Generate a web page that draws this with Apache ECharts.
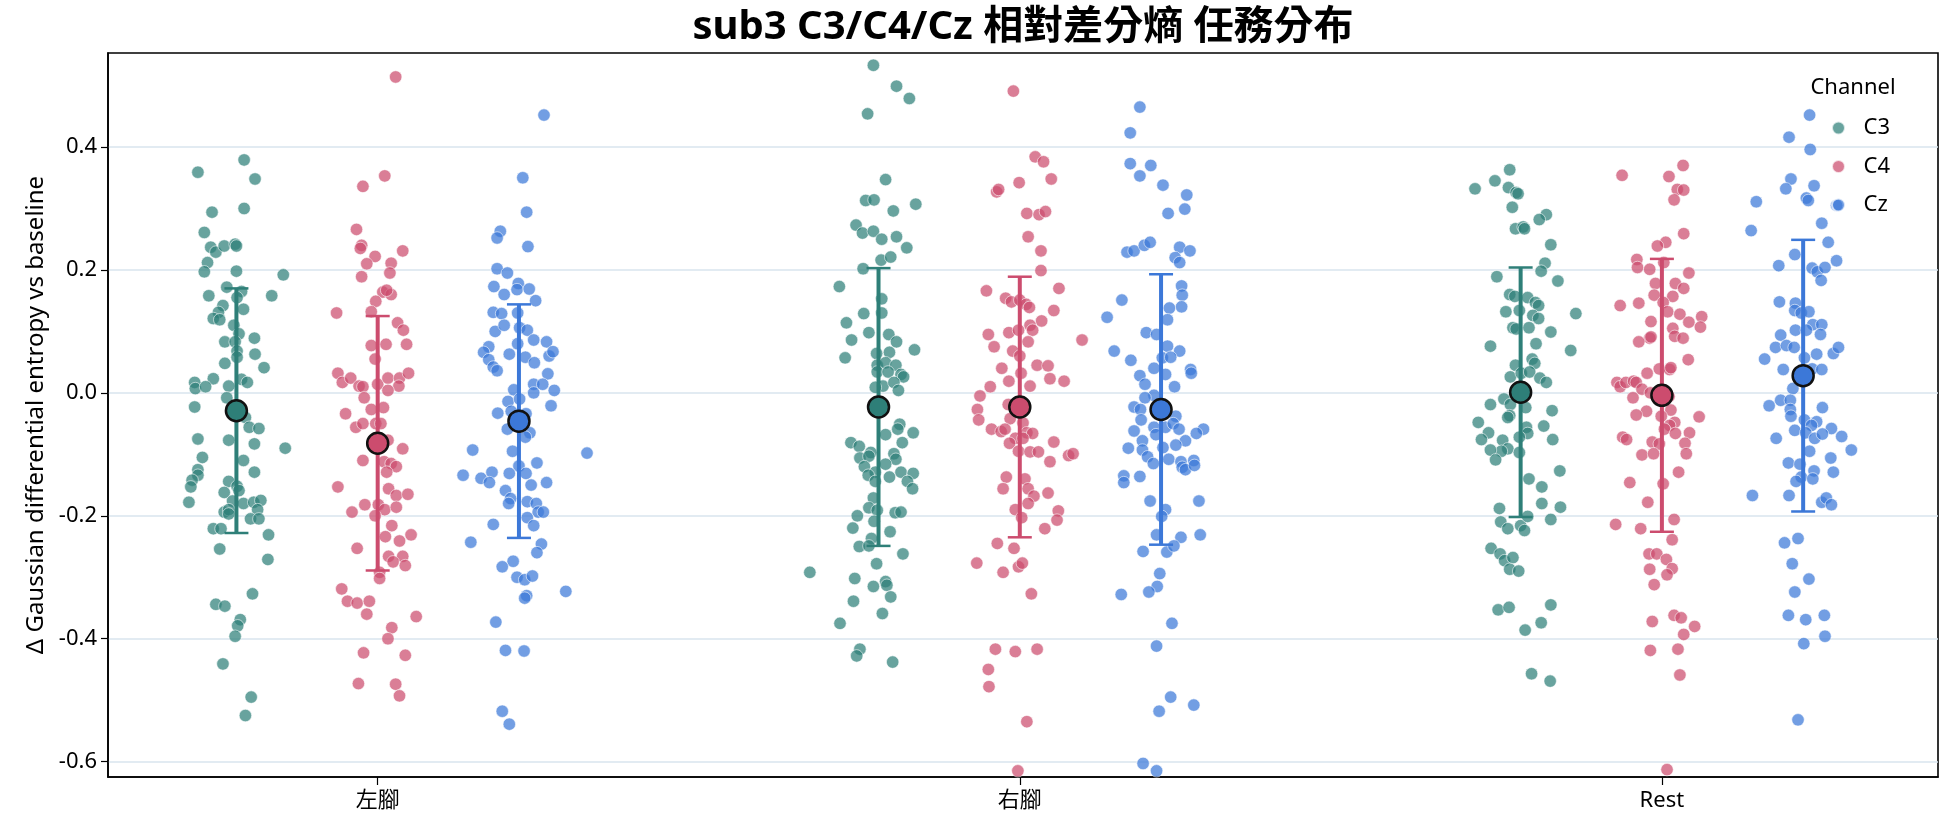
<!DOCTYPE html>
<html>
<head>
<meta charset="utf-8">
<script src="https://cdn.jsdelivr.net/npm/echarts@6/dist/echarts.min.js"></script>
<style>
  html, body { margin: 0; padding: 0; background: #fff; }
  #chart { width: 1944px; height: 827px; }
</style>
</head>
<body>
<div id="chart"></div>
<script>
// categories / channels
const categories = ['左腳', '右腳', 'Rest'];
const channels = ['C3', 'C4', 'Cz'];
const yTicks = [-0.6, -0.4, -0.2, 0.0, 0.2, 0.4];

// mean and sd per channel (左腳, 右腳, Rest)
const meanC3 = [-0.029, -0.023, 0.001];
const sdC3 = [0.199, 0.226, 0.203];
const meanC4 = [-0.082, -0.023, -0.004];
const sdC4 = [0.207, 0.212, 0.222];
const meanCz = [-0.046, -0.027, 0.028];
const sdCz = [0.190, 0.220, 0.221];

// strip points: [jitter, value]
const c3Left = [[0.012,0.379],[-0.060,0.359],[0.029,0.348],[-0.038,0.294],[0.012,0.300],[-0.050,0.261],[-0.040,0.237],[-0.032,0.229],[-0.019,0.239],[-0.002,0.242],[0.000,0.239],[-0.045,0.212],[-0.050,0.197],[0.000,0.198],[0.073,0.192],[-0.015,0.172],[-0.043,0.158],[0.008,0.165],[0.055,0.158],[0.001,0.155],[-0.021,0.142],[0.011,0.136],[-0.028,0.131],[-0.036,0.121],[-0.026,0.119],[-0.004,0.110],[0.004,0.096],[0.028,0.089],[-0.018,0.083],[-0.002,0.083],[0.001,0.068],[0.029,0.063],[0.001,0.058],[-0.018,0.048],[0.043,0.041],[-0.036,0.023],[-0.065,0.017],[-0.064,0.007],[-0.048,0.010],[-0.012,0.011],[0.008,0.022],[0.017,0.017],[-0.015,-0.008],[-0.065,-0.023],[0.014,-0.040],[0.020,-0.056],[0.035,-0.058],[-0.060,-0.075],[-0.012,-0.077],[0.028,-0.083],[0.076,-0.090],[-0.053,-0.105],[0.011,-0.110],[-0.060,-0.125],[-0.060,-0.134],[-0.069,-0.142],[-0.071,-0.153],[0.028,-0.129],[-0.012,-0.144],[0.001,-0.152],[-0.019,-0.162],[0.004,-0.159],[-0.074,-0.178],[-0.006,-0.176],[0.011,-0.180],[0.027,-0.178],[0.038,-0.175],[-0.019,-0.194],[-0.012,-0.190],[0.033,-0.190],[0.022,-0.205],[0.035,-0.205],[-0.012,-0.197],[-0.036,-0.221],[-0.024,-0.221],[0.050,-0.231],[-0.026,-0.254],[0.049,-0.271],[0.025,-0.327],[-0.032,-0.344],[-0.018,-0.347],[0.006,-0.369],[0.002,-0.379],[-0.002,-0.396],[-0.021,-0.441],[0.023,-0.495],[0.014,-0.525]];
const c4Left = [[0.028,0.514],[0.011,0.353],[-0.023,0.336],[-0.033,0.266],[-0.025,0.240],[-0.027,0.235],[-0.004,0.222],[0.039,0.231],[-0.017,0.210],[0.021,0.211],[0.019,0.195],[-0.025,0.189],[0.008,0.164],[0.021,0.160],[0.014,0.167],[-0.003,0.149],[-0.064,0.130],[-0.010,0.132],[0.031,0.114],[0.040,0.102],[-0.010,0.077],[0.013,0.079],[0.045,0.079],[-0.004,0.055],[-0.062,0.032],[-0.055,0.017],[-0.042,0.024],[-0.029,0.011],[-0.023,0.010],[0.000,0.014],[0.016,0.024],[0.034,0.024],[0.048,0.032],[0.033,0.011],[0.016,0.004],[-0.021,-0.008],[-0.010,-0.027],[0.009,-0.024],[-0.050,-0.034],[-0.034,-0.056],[-0.023,-0.050],[-0.003,-0.050],[0.005,-0.050],[0.016,-0.077],[0.039,-0.091],[-0.023,-0.110],[0.010,-0.112],[0.021,-0.115],[0.029,-0.120],[0.014,-0.129],[-0.062,-0.153],[0.017,-0.156],[0.029,-0.167],[0.047,-0.165],[-0.020,-0.182],[0.001,-0.182],[0.011,-0.190],[0.029,-0.186],[-0.040,-0.194],[-0.004,-0.200],[0.022,-0.216],[0.012,-0.234],[0.034,-0.241],[0.052,-0.231],[-0.032,-0.253],[0.017,-0.266],[0.039,-0.266],[0.024,-0.275],[0.043,-0.281],[0.003,-0.292],[0.003,-0.302],[-0.056,-0.319],[-0.047,-0.339],[-0.032,-0.342],[-0.013,-0.339],[-0.017,-0.360],[0.060,-0.364],[0.022,-0.382],[0.016,-0.400],[-0.022,-0.423],[0.043,-0.427],[-0.030,-0.473],[0.028,-0.474],[0.034,-0.493]];
const czLeft = [[0.039,0.452],[0.006,0.350],[0.012,0.294],[-0.029,0.263],[-0.034,0.252],[0.014,0.238],[-0.034,0.202],[-0.018,0.195],[-0.039,0.173],[-0.001,0.178],[-0.003,0.168],[0.016,0.169],[-0.023,0.160],[0.026,0.150],[-0.040,0.131],[-0.027,0.129],[-0.002,0.130],[-0.037,0.100],[-0.023,0.110],[0.001,0.106],[0.013,0.102],[0.023,0.086],[0.043,0.083],[-0.047,0.075],[-0.055,0.066],[-0.047,0.054],[-0.015,0.063],[-0.002,0.080],[0.010,0.058],[0.024,0.049],[0.047,0.060],[0.053,0.067],[-0.040,0.042],[-0.034,0.036],[0.045,0.031],[0.023,0.014],[0.037,0.014],[0.055,0.004],[-0.008,0.005],[0.023,0.000],[-0.017,-0.014],[0.001,-0.010],[0.050,-0.021],[-0.033,-0.033],[-0.012,-0.030],[0.011,-0.034],[-0.018,-0.059],[0.017,-0.065],[0.010,-0.072],[-0.072,-0.093],[-0.010,-0.095],[0.106,-0.098],[0.000,-0.119],[0.028,-0.114],[-0.087,-0.134],[-0.059,-0.139],[-0.042,-0.129],[-0.046,-0.146],[-0.015,-0.131],[0.011,-0.131],[0.019,-0.150],[0.043,-0.146],[-0.021,-0.159],[-0.013,-0.172],[-0.016,-0.180],[0.013,-0.177],[0.027,-0.180],[0.030,-0.194],[0.038,-0.194],[0.013,-0.203],[0.023,-0.216],[-0.040,-0.214],[-0.075,-0.243],[0.035,-0.246],[0.028,-0.260],[-0.009,-0.274],[-0.026,-0.283],[-0.003,-0.300],[0.009,-0.304],[0.021,-0.298],[0.012,-0.330],[0.009,-0.334],[0.073,-0.323],[-0.036,-0.373],[-0.021,-0.419],[0.008,-0.420],[-0.026,-0.518],[-0.015,-0.539]];
const c3Right = [[-0.008,0.533],[0.028,0.499],[0.048,0.479],[-0.017,0.454],[0.011,0.347],[-0.020,0.313],[-0.007,0.314],[0.023,0.296],[0.058,0.307],[-0.035,0.273],[-0.025,0.260],[-0.008,0.263],[0.005,0.250],[0.028,0.254],[0.044,0.236],[0.004,0.216],[0.019,0.221],[-0.024,0.202],[-0.061,0.173],[0.005,0.153],[-0.023,0.129],[0.005,0.130],[-0.050,0.114],[-0.015,0.098],[0.016,0.095],[-0.042,0.086],[0.028,0.083],[0.056,0.070],[0.017,0.066],[-0.003,0.064],[-0.052,0.057],[-0.002,0.045],[0.011,0.049],[0.027,0.045],[-0.002,0.034],[0.015,0.034],[0.035,0.030],[0.039,0.026],[0.007,0.011],[-0.005,0.009],[0.024,0.017],[0.031,0.004],[0.033,-0.051],[0.054,-0.065],[0.011,-0.068],[0.030,-0.059],[-0.043,-0.081],[-0.030,-0.087],[-0.012,-0.097],[0.037,-0.081],[-0.029,-0.106],[-0.015,-0.103],[0.024,-0.099],[0.027,-0.108],[-0.022,-0.120],[0.011,-0.116],[-0.005,-0.129],[0.035,-0.129],[0.054,-0.131],[-0.016,-0.134],[0.017,-0.137],[0.045,-0.144],[0.053,-0.156],[-0.005,-0.144],[-0.008,-0.171],[-0.015,-0.187],[-0.002,-0.191],[0.026,-0.195],[0.035,-0.194],[-0.033,-0.200],[-0.007,-0.209],[-0.040,-0.220],[0.018,-0.226],[-0.011,-0.237],[-0.030,-0.250],[-0.015,-0.249],[0.038,-0.262],[-0.107,-0.292],[-0.003,-0.278],[-0.037,-0.302],[-0.008,-0.315],[0.011,-0.307],[0.013,-0.313],[0.019,-0.332],[-0.039,-0.339],[0.006,-0.359],[-0.060,-0.375],[-0.029,-0.417],[-0.034,-0.428],[0.022,-0.438]];
const c4Right = [[-0.010,0.491],[0.024,0.384],[0.037,0.376],[0.049,0.348],[-0.036,0.327],[-0.033,0.331],[-0.001,0.342],[0.011,0.292],[0.030,0.290],[0.040,0.295],[0.013,0.254],[0.033,0.231],[0.033,0.199],[-0.052,0.166],[0.061,0.170],[-0.022,0.154],[-0.013,0.148],[0.000,0.151],[0.010,0.144],[0.015,0.139],[0.053,0.134],[0.034,0.117],[0.016,0.110],[0.020,0.102],[-0.017,0.098],[-0.002,0.102],[-0.049,0.095],[0.013,0.083],[0.097,0.086],[-0.040,0.075],[-0.011,0.068],[0.000,0.060],[-0.028,0.040],[0.027,0.045],[0.044,0.044],[0.002,0.032],[-0.017,0.019],[0.016,0.011],[0.047,0.023],[0.069,0.019],[-0.046,0.010],[-0.062,-0.005],[-0.066,-0.027],[-0.064,-0.044],[-0.018,-0.019],[-0.015,-0.042],[-0.044,-0.059],[-0.029,-0.063],[-0.023,-0.059],[0.005,-0.049],[0.011,-0.065],[0.020,-0.066],[-0.007,-0.074],[-0.016,-0.082],[0.005,-0.074],[0.053,-0.080],[-0.002,-0.095],[0.016,-0.096],[0.029,-0.096],[0.047,-0.112],[0.076,-0.102],[0.083,-0.099],[-0.021,-0.137],[-0.026,-0.156],[0.008,-0.140],[0.013,-0.156],[0.022,-0.168],[0.044,-0.163],[0.013,-0.180],[-0.007,-0.190],[0.003,-0.203],[0.060,-0.192],[0.058,-0.207],[0.039,-0.221],[-0.035,-0.245],[-0.009,-0.253],[-0.067,-0.277],[-0.026,-0.292],[-0.002,-0.283],[0.004,-0.277],[0.018,-0.327],[-0.038,-0.417],[-0.007,-0.421],[0.027,-0.417],[-0.049,-0.450],[-0.048,-0.478],[0.011,-0.535],[-0.003,-0.615]];
const czRight = [[-0.033,0.465],[-0.048,0.423],[-0.048,0.373],[-0.016,0.370],[-0.033,0.353],[0.003,0.338],[0.040,0.322],[0.011,0.292],[0.037,0.299],[-0.053,0.229],[-0.042,0.231],[-0.026,0.240],[-0.017,0.245],[0.029,0.237],[0.045,0.231],[0.022,0.220],[0.029,0.212],[0.032,0.174],[0.033,0.159],[0.032,0.140],[-0.061,0.151],[0.013,0.138],[-0.084,0.123],[0.010,0.119],[-0.023,0.098],[-0.007,0.095],[-0.073,0.068],[-0.047,0.053],[0.010,0.076],[0.029,0.068],[0.002,0.057],[0.015,0.058],[-0.011,0.040],[0.007,0.030],[-0.033,0.028],[-0.025,0.014],[0.046,0.038],[0.047,0.032],[0.021,0.010],[-0.011,-0.004],[-0.025,-0.008],[-0.042,-0.023],[-0.032,-0.027],[0.023,-0.038],[-0.031,-0.044],[-0.011,-0.056],[0.007,-0.056],[0.019,-0.050],[0.028,-0.059],[-0.042,-0.062],[0.066,-0.059],[0.055,-0.066],[-0.029,-0.078],[-0.008,-0.068],[0.038,-0.078],[-0.051,-0.090],[-0.029,-0.093],[0.003,-0.089],[0.023,-0.085],[-0.021,-0.104],[0.012,-0.108],[-0.012,-0.115],[0.031,-0.112],[0.033,-0.121],[0.038,-0.125],[0.051,-0.110],[0.052,-0.118],[-0.058,-0.135],[-0.058,-0.146],[-0.033,-0.136],[-0.017,-0.176],[0.059,-0.176],[0.007,-0.190],[0.001,-0.201],[-0.007,-0.231],[0.031,-0.235],[0.061,-0.231],[-0.028,-0.258],[0.009,-0.259],[0.020,-0.249],[-0.002,-0.294],[-0.006,-0.315],[-0.019,-0.324],[-0.062,-0.328],[0.017,-0.375],[-0.007,-0.412],[0.015,-0.495],[-0.003,-0.518],[0.051,-0.508],[-0.028,-0.603],[-0.007,-0.615]];
const c3Rest = [[-0.017,0.363],[-0.071,0.332],[-0.040,0.345],[-0.019,0.334],[-0.007,0.326],[-0.004,0.324],[-0.013,0.302],[0.040,0.290],[0.029,0.282],[-0.008,0.267],[0.004,0.270],[0.006,0.267],[0.047,0.241],[0.038,0.211],[0.032,0.198],[-0.037,0.189],[0.058,0.182],[-0.017,0.160],[-0.009,0.157],[0.011,0.155],[0.023,0.147],[0.028,0.142],[-0.023,0.132],[-0.002,0.134],[0.019,0.126],[0.028,0.121],[0.086,0.129],[-0.012,0.106],[-0.007,0.104],[0.013,0.106],[0.047,0.099],[-0.047,0.076],[0.024,0.080],[0.078,0.069],[-0.008,0.045],[0.018,0.055],[0.022,0.048],[-0.016,0.026],[0.001,0.032],[0.014,0.034],[0.030,0.024],[0.040,0.017],[-0.026,-0.010],[-0.016,-0.019],[-0.047,-0.019],[0.008,-0.024],[0.049,-0.029],[-0.017,-0.037],[-0.020,-0.040],[-0.066,-0.048],[-0.050,-0.065],[-0.061,-0.076],[-0.028,-0.077],[0.009,-0.056],[0.011,-0.066],[-0.002,-0.072],[0.036,-0.054],[0.050,-0.076],[-0.020,-0.091],[-0.030,-0.095],[-0.047,-0.093],[-0.039,-0.109],[-0.002,-0.097],[0.061,-0.127],[0.013,-0.140],[0.033,-0.153],[0.033,-0.180],[0.062,-0.186],[-0.033,-0.188],[-0.031,-0.210],[-0.020,-0.221],[0.000,-0.216],[0.006,-0.224],[0.011,-0.201],[0.047,-0.206],[-0.046,-0.253],[-0.032,-0.262],[-0.025,-0.273],[-0.012,-0.268],[-0.017,-0.287],[-0.003,-0.290],[-0.035,-0.353],[-0.018,-0.349],[0.047,-0.345],[0.032,-0.374],[0.007,-0.386],[0.017,-0.457],[0.046,-0.469]];
const c4Rest = [[0.033,0.370],[-0.062,0.354],[0.011,0.352],[0.024,0.331],[0.034,0.330],[0.019,0.314],[0.034,0.259],[0.006,0.245],[-0.007,0.239],[-0.039,0.217],[-0.038,0.204],[-0.019,0.201],[0.003,0.212],[0.042,0.195],[-0.010,0.178],[0.021,0.178],[0.034,0.170],[0.017,0.157],[-0.012,0.159],[-0.065,0.142],[-0.036,0.146],[0.002,0.147],[0.009,0.132],[0.062,0.124],[0.028,0.128],[0.042,0.115],[0.060,0.107],[-0.017,0.116],[0.017,0.105],[0.020,0.092],[0.033,0.089],[-0.019,0.089],[-0.017,0.091],[-0.036,0.083],[0.041,0.054],[-0.004,0.039],[0.012,0.038],[0.014,0.041],[-0.023,0.032],[-0.070,0.017],[-0.065,0.010],[-0.056,0.017],[-0.044,0.019],[-0.040,0.017],[-0.031,0.006],[-0.018,0.000],[-0.045,-0.008],[0.011,-0.006],[0.014,-0.028],[0.058,-0.039],[-0.024,-0.030],[-0.040,-0.036],[-0.001,-0.038],[0.020,-0.048],[0.012,-0.053],[0.004,-0.059],[0.021,-0.066],[0.043,-0.065],[-0.061,-0.072],[-0.055,-0.076],[-0.015,-0.080],[-0.004,-0.083],[0.036,-0.082],[0.038,-0.099],[-0.031,-0.101],[-0.013,-0.099],[0.026,-0.129],[-0.050,-0.146],[0.002,-0.148],[-0.022,-0.178],[0.019,-0.206],[-0.072,-0.214],[-0.033,-0.221],[0.016,-0.239],[-0.020,-0.262],[-0.008,-0.262],[0.007,-0.271],[-0.019,-0.287],[0.016,-0.286],[0.008,-0.296],[-0.012,-0.312],[-0.015,-0.372],[0.019,-0.362],[0.030,-0.366],[0.051,-0.380],[0.034,-0.393],[-0.018,-0.419],[0.025,-0.417],[0.028,-0.459],[0.008,-0.613]];
const czRest = [[0.010,0.452],[-0.022,0.416],[0.011,0.396],[-0.019,0.348],[-0.027,0.332],[0.017,0.337],[-0.073,0.311],[0.005,0.317],[0.008,0.313],[0.052,0.305],[-0.081,0.264],[0.029,0.276],[0.039,0.245],[-0.013,0.225],[0.052,0.215],[-0.038,0.207],[0.014,0.203],[0.022,0.197],[0.034,0.204],[0.028,0.183],[-0.037,0.148],[-0.012,0.146],[-0.013,0.134],[-0.003,0.130],[0.009,0.132],[0.015,0.111],[0.029,0.111],[-0.012,0.102],[0.005,0.102],[-0.035,0.094],[0.027,0.095],[-0.043,0.074],[-0.026,0.077],[-0.014,0.074],[0.047,0.064],[0.055,0.074],[-0.060,0.055],[0.002,0.057],[0.021,0.063],[-0.031,0.038],[0.014,0.039],[0.029,0.038],[-0.016,0.007],[-0.035,-0.012],[-0.020,-0.012],[-0.053,-0.021],[-0.020,-0.027],[-0.019,-0.038],[0.030,-0.024],[0.002,-0.044],[0.021,-0.047],[0.013,-0.053],[-0.013,-0.061],[0.004,-0.065],[-0.042,-0.074],[0.018,-0.074],[0.044,-0.058],[0.030,-0.067],[0.060,-0.071],[0.010,-0.095],[0.075,-0.093],[0.043,-0.106],[-0.023,-0.114],[-0.005,-0.116],[0.017,-0.127],[0.047,-0.129],[-0.003,-0.137],[-0.011,-0.144],[0.015,-0.140],[-0.079,-0.167],[-0.022,-0.167],[0.029,-0.178],[0.036,-0.171],[0.044,-0.182],[-0.029,-0.244],[-0.008,-0.237],[-0.017,-0.278],[0.009,-0.303],[-0.013,-0.324],[-0.023,-0.362],[0.004,-0.369],[0.033,-0.362],[0.034,-0.396],[0.001,-0.408],[-0.008,-0.532]];

const pointsByChannel = {
  C3: [c3Left, c3Right, c3Rest],
  C4: [c4Left, c4Right, c4Rest],
  Cz: [czLeft, czRight, czRest]
};
const statsByChannel = {
  C3: { mean: meanC3, sd: sdC3 },
  C4: { mean: meanC4, sd: sdC4 },
  Cz: { mean: meanCz, sd: sdCz }
};

const colors = { C3: '#2e7f78', C4: '#cc4c6e', Cz: '#3c78d8' };
const dodge = { C3: -0.22, C4: 0, Cz: 0.22 };
const fontFamily = "'Noto Sans', 'Noto Sans CJK TC', sans-serif";

let chart = echarts.init(document.getElementById('chart'));

let series = [];
channels.forEach(ch => {
  // 散點
  let pts = [];
  pointsByChannel[ch].forEach((grp, ci) => {
    grp.forEach(p => pts.push([ci + dodge[ch] + p[0], p[1]]));
  });
  series.push({
    name: ch,
    type: 'scatter',
    data: pts,
    symbolSize: 12.5,
    z: 2,
    itemStyle: {
      color: colors[ch],
      opacity: 0.72,
      borderColor: '#ffffff',
      borderWidth: 0.8
    },
    emphasis: { disabled: true }
  });
});

channels.forEach(ch => {
  const st = statsByChannel[ch];
  // 誤差線 mean ± sd
  series.push({
    type: 'custom',
    z: 3,
    silent: true,
    data: categories.map((c, ci) => [ci + dodge[ch], st.mean[ci] - st.sd[ci], st.mean[ci] + st.sd[ci]]),
    renderItem: function (params, api) {
      let x = api.value(0);
      let top = api.coord([x, api.value(2)]);
      let bot = api.coord([x, api.value(1)]);
      let cap = 12;
      return {
        type: 'group',
        children: [
          { type: 'line', shape: { x1: top[0], y1: top[1], x2: bot[0], y2: bot[1] }, style: { stroke: colors[ch], lineWidth: 4 } },
          { type: 'line', shape: { x1: top[0] - cap, y1: top[1], x2: top[0] + cap, y2: top[1] }, style: { stroke: colors[ch], lineWidth: 2.5 } },
          { type: 'line', shape: { x1: bot[0] - cap, y1: bot[1], x2: bot[0] + cap, y2: bot[1] }, style: { stroke: colors[ch], lineWidth: 2.5 } }
        ]
      };
    }
  });
  // 均值點
  series.push({
    type: 'scatter',
    z: 4,
    silent: true,
    symbolSize: 21,
    data: categories.map((c, ci) => [ci + dodge[ch], st.mean[ci]]),
    itemStyle: { color: colors[ch], borderColor: '#111111', borderWidth: 2.5, opacity: 1 }
  });
});

let option = {
  backgroundColor: '#ffffff',
  animation: false,
  grid: {
    left: 108, right: 6, top: 53, bottom: 50,
    show: true, borderColor: '#000000', borderWidth: 1.6
  },
  graphic: [
    {
      type: 'text', x: 1023, y: 28,
      style: { text: 'sub3 C3/C4/Cz 相對差分熵 任務分布', font: 'bold 40px ' + fontFamily, fill: '#000', textAlign: 'center', textVerticalAlign: 'middle' }
    },
    {
      type: 'text', x: 1853, y: 88,
      style: { text: 'Channel', font: '22px ' + fontFamily, fill: '#000', textAlign: 'center', textVerticalAlign: 'middle' }
    }
  ],
  legend: {
    data: channels,
    orient: 'vertical',
    left: 1831,
    top: 116,
    padding: 0,
    itemWidth: 40,
    itemHeight: 13,
    itemGap: 14.5,
    icon: 'circle',
    textStyle: { fontSize: 22, lineHeight: 24, color: '#000', fontFamily: fontFamily, padding: [0, 0, 0, 0] }
  },
  xAxis: {
    type: 'value',
    min: -0.42,
    max: 2.43,
    splitLine: { show: false },
    axisLine: { show: true, onZero: false, lineStyle: { color: '#000', width: 1.6 } },
    axisTick: { show: true, length: 8, customValues: [0, 1, 2], lineStyle: { color: '#000', width: 1.2 } },
    axisLabel: {
      customValues: [0, 1, 2],
      formatter: v => categories[Math.round(v)],
      fontSize: 22, color: '#000', margin: 13, fontFamily: fontFamily
    }
  },
  yAxis: {
    type: 'value',
    min: -0.625,
    max: 0.553,
    name: 'Δ Gaussian differential entropy vs baseline',
    nameLocation: 'middle',
    nameGap: 52,
    nameTextStyle: { fontSize: 24, color: '#000', fontFamily: fontFamily },
    axisLine: { show: true, onZero: false, lineStyle: { color: '#000', width: 1.6 } },
    axisTick: { show: true, length: 7, customValues: yTicks, lineStyle: { color: '#000', width: 1.2 } },
    axisLabel: {
      customValues: yTicks,
      formatter: v => v.toFixed(1),
      fontSize: 22, color: '#000', margin: 11, fontFamily: fontFamily
    },
    splitLine: { show: true, lineStyle: { color: '#d9e4ee', width: 1.5 } }
  },
  series: series
};

chart.setOption(option);
</script>
</body>
</html>
